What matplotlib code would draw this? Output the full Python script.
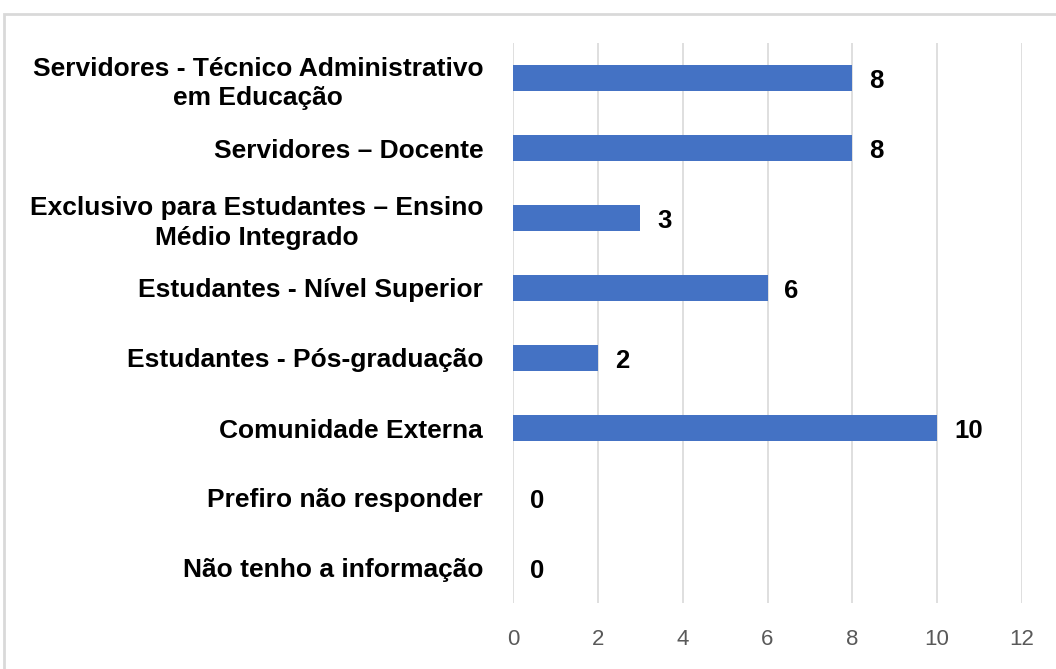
import matplotlib.pyplot as plt
from matplotlib.patches import Rectangle

categorias = [
    'Servidores - Técnico Administrativo\nem Educação',
    'Servidores – Docente',
    'Exclusivo para Estudantes – Ensino\nMédio Integrado',
    'Estudantes - Nível Superior',
    'Estudantes - Pós-graduação',
    'Comunidade Externa',
    'Prefiro não responder',
    'Não tenho a informação',
]
valores = [8, 8, 3, 6, 2, 10, 0, 0]

plt.rcParams['font.family'] = ['Liberation Sans', 'DejaVu Sans']

fig = plt.figure(figsize=(10.56, 6.69), dpi=100)
fig.patches.append(Rectangle((4 / 1056, -0.1), 1.2, 1 - 14 / 669 + 0.1,
                             transform=fig.transFigure, fill=False,
                             edgecolor='#D9D9D9', linewidth=2))
ax = fig.add_axes([513 / 1056, 1 - 603 / 669, 509 / 1056, 560 / 669])

y = list(range(len(categorias)))
ax.barh(y, valores, height=0.37, color='#4472C4', zorder=3)
for yi, v in zip(y, valores):
    ax.text(v + 0.4, yi, str(v), va='center_baseline', ha='left',
            fontsize=18.5, fontweight='bold', color='black')

ax.set_xlim(0, 12)
ax.set_ylim(len(categorias) - 0.5, -0.5)
ax.set_xticks(range(0, 13, 2))
ax.set_yticks(y)
ax.set_yticklabels(categorias, fontsize=19, fontweight='bold')
ax.tick_params(axis='y', length=0, pad=21.5)
for lbl in ax.get_yticklabels():
    lbl.set_ha('right')
    lbl.set_multialignment('center')
    lbl.set_linespacing(1.28)
ax.tick_params(axis='x', length=0, pad=19, labelsize=16, labelcolor='#595959')
ax.grid(axis='x', color='#D9D9D9', linewidth=1.2, zorder=0)
for s in ax.spines.values():
    s.set_visible(False)

fig.savefig('out.png', dpi=100)
